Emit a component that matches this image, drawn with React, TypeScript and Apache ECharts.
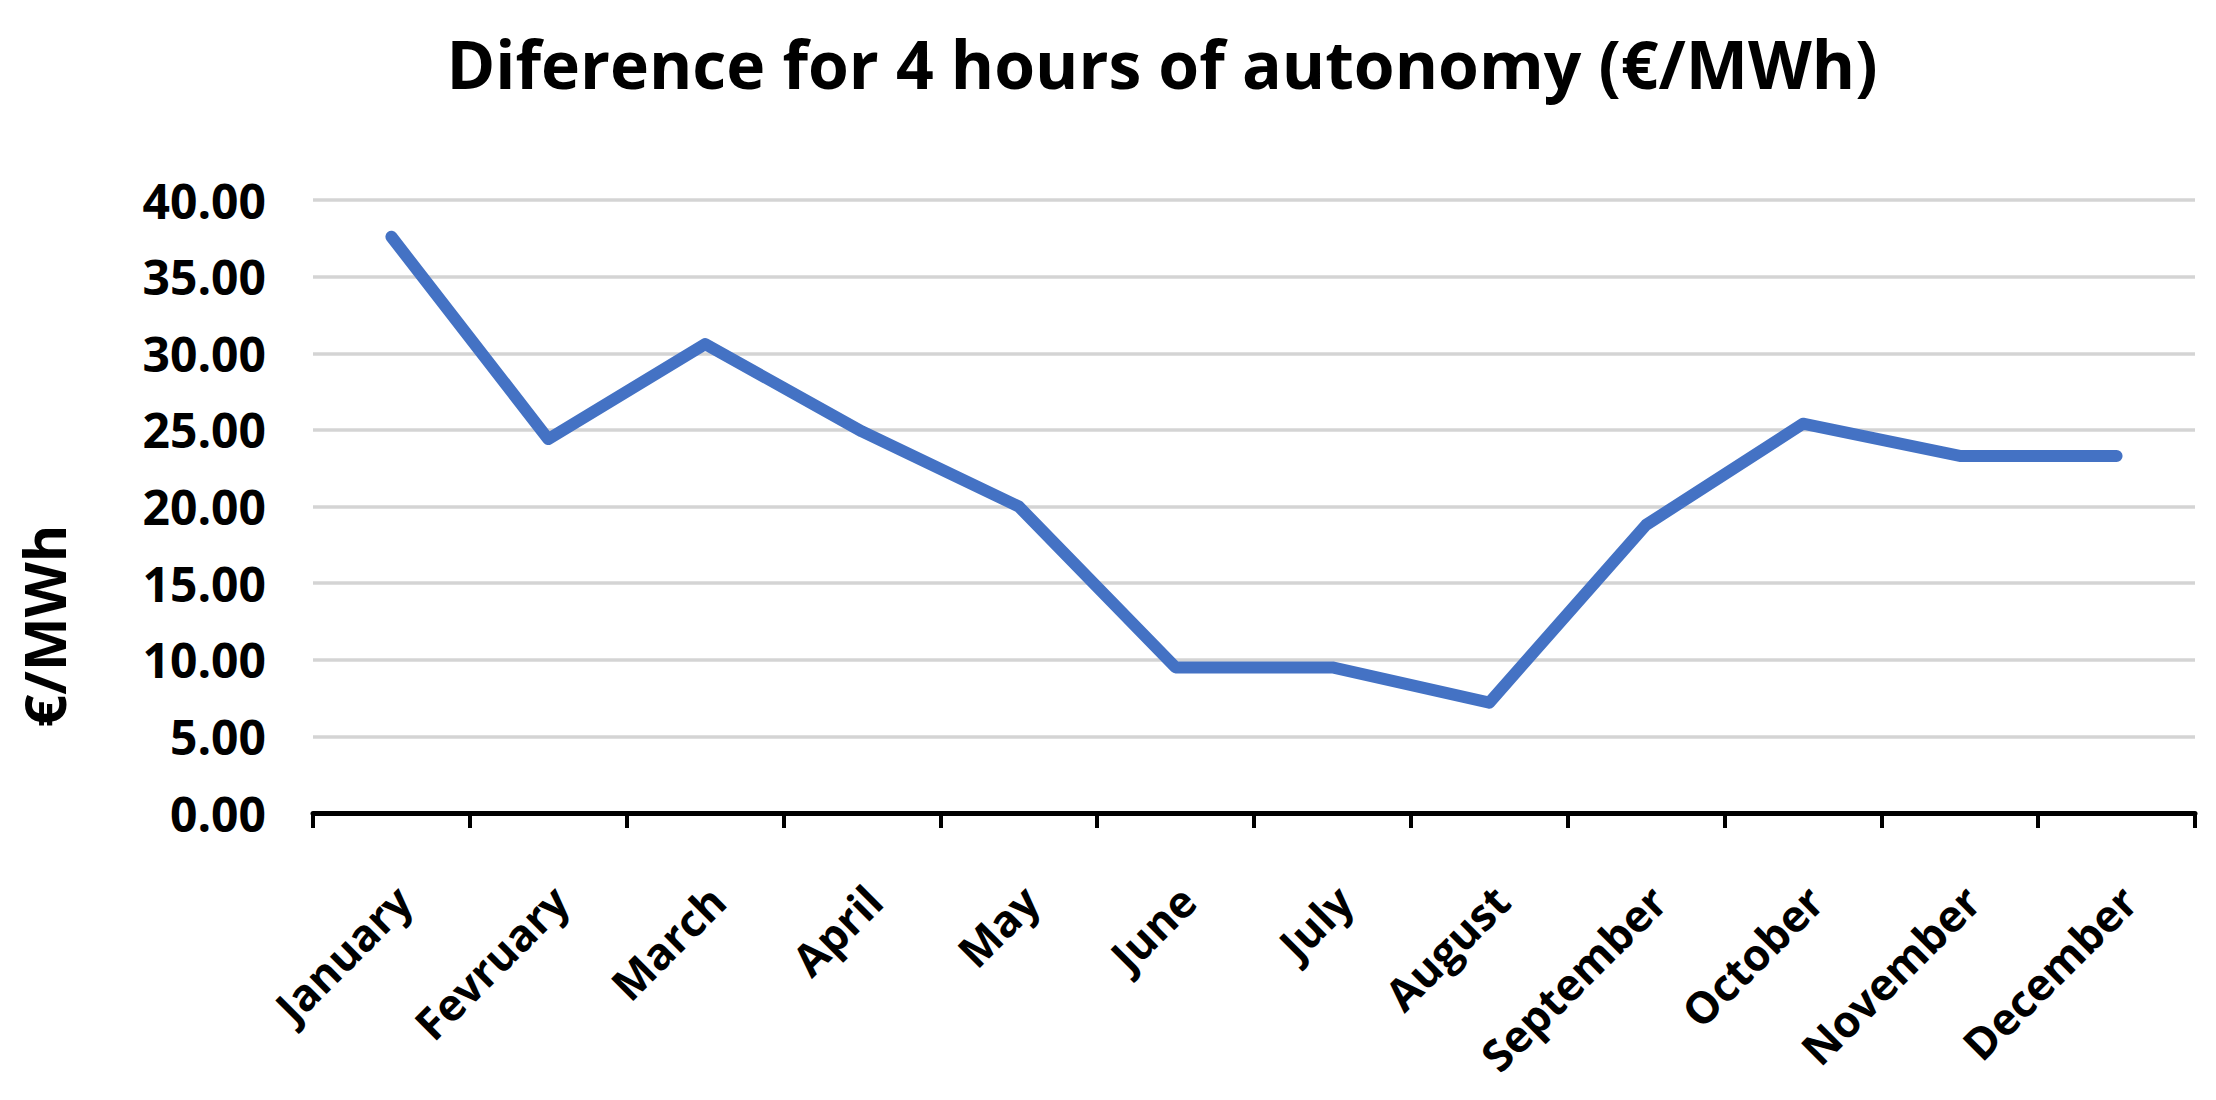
import React, { useEffect, useRef } from "react";
import * as echarts from "echarts";

const categories = [
  "January", "Fevruary", "March", "April", "May", "June",
  "July", "August", "September", "October", "November", "December",
];
const values = [37.6, 24.4, 30.6, 24.9, 20.0, 9.5, 9.5, 7.2, 18.8, 25.4, 23.3, 23.3];
const titleText = "Diference for 4 hours of autonomy (€/MWh)";
const yAxisTitle = "€/MWh";
const yMin = 0;
const yMax = 40;
const yInterval = 5;

const FONT = "'Open Sans', 'Noto Sans', sans-serif";

export default function App() {
  const ref = useRef<HTMLDivElement>(null);
  useEffect(() => {
    document.body.style.margin = "0";
    if (!ref.current) return;
    const chart = echarts.init(ref.current, undefined, { renderer: "svg" });
    const gridTop = 200;
    const gridHeight = 613;
    const gridLeft = 313;
    const gridWidth = 1882;
    chart.setOption({
      animation: false,
      backgroundColor: "#ffffff",
      grid: [
        { left: gridLeft, top: gridTop, width: gridWidth, height: gridHeight },
        { left: gridLeft + 12, top: gridTop, width: gridWidth, height: gridHeight },
      ],
      xAxis: [
        {
          type: "category",
          gridIndex: 0,
          data: categories,
          boundaryGap: true,
          axisLine: { show: true, lineStyle: { color: "#000", width: 5 } },
          axisTick: { show: true, length: 15, lineStyle: { color: "#000", width: 4 } },
          axisLabel: { show: false },
          splitLine: { show: false },
        },
        {
          type: "category",
          gridIndex: 1,
          data: categories,
          boundaryGap: true,
          axisLine: { show: false },
          axisTick: { show: false },
          splitLine: { show: false },
          axisLabel: {
            show: true,
            interval: 0,
            rotate: 45,
            margin: 80,
            fontSize: 44,
            fontWeight: "bold",
            fontFamily: FONT,
            color: "#000",
          },
        },
      ],
      yAxis: [
        {
          type: "value",
          gridIndex: 0,
          min: yMin,
          max: yMax,
          interval: yInterval,
          axisLine: { show: false },
          axisTick: { show: false },
          splitLine: { show: true, lineStyle: { color: "#d4d4d4", width: 3.5 } },
          axisLabel: {
            margin: 47,
            fontSize: 48,
            fontWeight: "bold",
            fontFamily: FONT,
            color: "#000",
            formatter: (v: number) => v.toFixed(2),
          },
        },
        {
          type: "value",
          gridIndex: 1,
          min: yMin,
          max: yMax,
          interval: yInterval,
          show: false,
          splitLine: { show: false },
        },
      ],
      graphic: [
        {
          type: "text",
          x: 1162,
          y: 63,
          style: {
            text: titleText,
            align: "center",
            verticalAlign: "middle",
            fontSize: 66,
            fontWeight: "bold",
            fontFamily: FONT,
            fill: "#000",
          },
        },
        {
          type: "text",
          x: 44,
          y: 626,
          rotation: Math.PI / 2,
          style: {
            text: yAxisTitle,
            align: "center",
            verticalAlign: "middle",
            fontSize: 57,
            fontWeight: "bold",
            fontFamily: FONT,
            fill: "#000",
          },
        },
      ],
      series: [
        {
          type: "line",
          xAxisIndex: 0,
          yAxisIndex: 0,
          data: values,
          symbol: "none",
          lineStyle: { color: "#4472C4", width: 12, cap: "round", join: "round" },
        },
      ],
    });
    return () => chart.dispose();
  }, []);
  return <div ref={ref} style={{ width: 2216, height: 1100 }} />;
}
